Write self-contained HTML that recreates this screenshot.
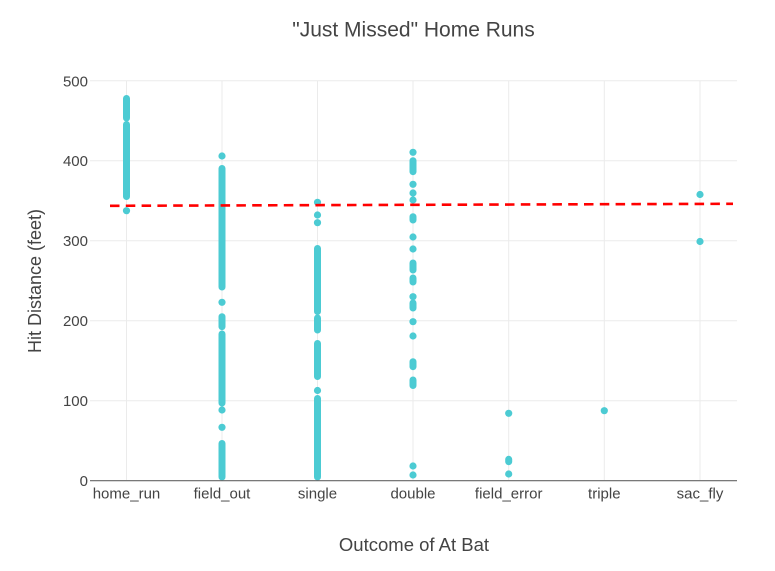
<!DOCTYPE html>
<html>
<head>
<meta charset="utf-8">
<style>
  html, body { margin: 0; padding: 0; background: #fff; }
  svg { display: block; }
  text { font-family: "Liberation Sans", Arial, sans-serif; fill: #444; }
</style>
</head>
<body>
<svg width="775" height="571" viewBox="0 0 775 571" xmlns="http://www.w3.org/2000/svg">
  <rect x="0" y="0" width="775" height="571" fill="#fff"/>

  <!-- horizontal gridlines -->
  <g stroke="#ebebeb" stroke-width="1">
    <line x1="90" y1="400.7" x2="737" y2="400.7"/>
    <line x1="90" y1="320.7" x2="737" y2="320.7"/>
    <line x1="90" y1="240.7" x2="737" y2="240.7"/>
    <line x1="90" y1="160.7" x2="737" y2="160.7"/>
    <line x1="90" y1="80.7" x2="737" y2="80.7"/>
  </g>
  <!-- vertical gridlines -->
  <g stroke="#ebebeb" stroke-width="1">
    <line x1="126.5" y1="80.7" x2="126.5" y2="480"/>
    <line x1="222" y1="80.7" x2="222" y2="480"/>
    <line x1="317.5" y1="80.7" x2="317.5" y2="480"/>
    <line x1="413" y1="80.7" x2="413" y2="480"/>
    <line x1="508.7" y1="80.7" x2="508.7" y2="480"/>
    <line x1="604.3" y1="80.7" x2="604.3" y2="480"/>
    <line x1="700" y1="80.7" x2="700" y2="480"/>
  </g>

  <!-- data points -->
  <g fill="#4ccbd3" stroke="#4ccbd3" stroke-width="7" stroke-linecap="round">
    <!-- home_run -->
    <line x1="126.5" y1="98.5" x2="126.5" y2="118"/>
    <line x1="126.5" y1="124.5" x2="126.5" y2="196.5"/>
    <circle cx="126.5" cy="210.7" r="3.6" stroke="none"/>

    <!-- field_out -->
    <circle cx="222" cy="156" r="3.6" stroke="none"/>
    <line x1="222" y1="168.5" x2="222" y2="287"/>
    <circle cx="222" cy="302.3" r="3.6" stroke="none"/>
    <line x1="222" y1="316.7" x2="222" y2="326.7"/>
    <line x1="222" y1="334" x2="222" y2="403"/>
    <circle cx="222" cy="410" r="3.6" stroke="none"/>
    <circle cx="222" cy="427.3" r="3.6" stroke="none"/>
    <line x1="222" y1="443.5" x2="222" y2="477"/>

    <!-- single -->
    <circle cx="317.5" cy="202.3" r="3.6" stroke="none"/>
    <circle cx="317.5" cy="215" r="3.6" stroke="none"/>
    <circle cx="317.5" cy="222.7" r="3.6" stroke="none"/>
    <line x1="317.5" y1="248.5" x2="317.5" y2="311.5"/>
    <line x1="317.5" y1="318" x2="317.5" y2="330"/>
    <line x1="317.5" y1="343.5" x2="317.5" y2="376.5"/>
    <circle cx="317.5" cy="390.5" r="3.6" stroke="none"/>
    <line x1="317.5" y1="398.5" x2="317.5" y2="477"/>

    <!-- double -->
    <circle cx="413" cy="152.3" r="3.6" stroke="none"/>
    <line x1="413" y1="160.7" x2="413" y2="171.7"/>
    <circle cx="413" cy="184.3" r="3.6" stroke="none"/>
    <circle cx="413" cy="193" r="3.6" stroke="none"/>
    <circle cx="413" cy="200" r="3.6" stroke="none"/>
    <line x1="413" y1="216.7" x2="413" y2="220"/>
    <circle cx="413" cy="237" r="3.6" stroke="none"/>
    <circle cx="413" cy="249" r="3.6" stroke="none"/>
    <line x1="413" y1="263" x2="413" y2="270"/>
    <line x1="413" y1="278" x2="413" y2="282"/>
    <circle cx="413" cy="296.7" r="3.6" stroke="none"/>
    <line x1="413" y1="303" x2="413" y2="308"/>
    <circle cx="413" cy="321.7" r="3.6" stroke="none"/>
    <circle cx="413" cy="336" r="3.6" stroke="none"/>
    <line x1="413" y1="361.7" x2="413" y2="366.7"/>
    <line x1="413" y1="380" x2="413" y2="385.5"/>
    <circle cx="413" cy="466" r="3.6" stroke="none"/>
    <circle cx="413" cy="475" r="3.6" stroke="none"/>

    <!-- field_error -->
    <circle cx="508.7" cy="413.3" r="3.6" stroke="none"/>
    <line x1="508.7" y1="459.3" x2="508.7" y2="461.7"/>
    <circle cx="508.7" cy="474" r="3.6" stroke="none"/>

    <!-- triple -->
    <circle cx="604.3" cy="410.7" r="3.6" stroke="none"/>

    <!-- sac_fly -->
    <circle cx="700" cy="194.5" r="3.6" stroke="none"/>
    <circle cx="700" cy="241.5" r="3.6" stroke="none"/>
  </g>

  <!-- x axis line -->
  <line x1="90" y1="480.7" x2="737" y2="480.7" stroke="#666" stroke-width="1.2"/>

  <!-- red dashed trend line -->
  <line x1="110" y1="205.8" x2="733" y2="203.8" stroke="#ff0000" stroke-width="2.6" stroke-dasharray="9.5,6.3"/>

  <!-- y tick labels -->
  <g font-size="15" text-anchor="end">
    <text x="88" y="486">0</text>
    <text x="88" y="406">100</text>
    <text x="88" y="326">200</text>
    <text x="88" y="246">300</text>
    <text x="88" y="166">400</text>
    <text x="88" y="86.5">500</text>
  </g>

  <!-- x tick labels -->
  <g font-size="15" text-anchor="middle">
    <text x="126.5" y="498.5">home_run</text>
    <text x="222" y="498.5">field_out</text>
    <text x="317.5" y="498.5">single</text>
    <text x="413" y="498.5">double</text>
    <text x="508.7" y="498.5">field_error</text>
    <text x="604.3" y="498.5">triple</text>
    <text x="700" y="498.5">sac_fly</text>
  </g>

  <!-- title -->
  <text x="413.5" y="36.7" font-size="21" text-anchor="middle">"Just Missed" Home Runs</text>

  <!-- axis titles -->
  <text x="414" y="551" font-size="18.5" text-anchor="middle">Outcome of At Bat</text>
  <text transform="translate(41,281) rotate(-90)" font-size="18" text-anchor="middle">Hit Distance (feet)</text>
</svg>
</body>
</html>
